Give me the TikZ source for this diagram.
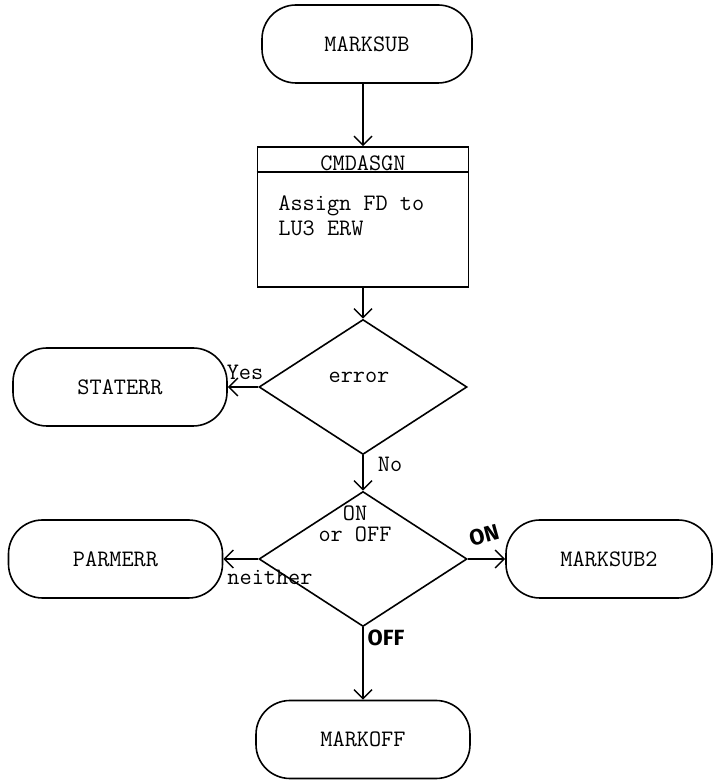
\documentclass[tikz,border=0pt]{standalone}
\usepackage{fontspec}
\newfontfamily\handfont{Fira Sans}
\usetikzlibrary{arrows.meta,shapes.geometric}
\tikzset{
  term/.style={draw, rectangle, rounded corners=17pt, minimum width=107pt, minimum height=39pt, line width=0.8pt, font=\ttfamily\fontsize{11.8}{12.5}\selectfont},
  procbox/.style={draw, rectangle, minimum width=105.5pt, minimum height=70pt, line width=0.8pt},
  decision/.style={draw, diamond, minimum width=104pt, minimum height=67.5pt, inner sep=0pt, line width=0.8pt},
  lbl/.style={font=\ttfamily\fontsize{11.8}{12.5}\selectfont, inner sep=1pt},
  hand/.style={font=\handfont\bfseries\fontsize{11}{13}\selectfont, inner sep=0pt},
  arr/.style={-{Straight Barb[length=4.5pt,width=9pt]}, line width=0.7pt},
}

\begin{document}
\begin{tikzpicture}[x=0.5pt,y=0.5pt]
\useasboundingbox (0,0) rectangle (713,781);
% main column
\node[term, minimum width=105pt] (marksub) at (367,737) {MARKSUB};
\node[procbox] (cmdasgn) at (363,564) {};
\node[lbl] (cmdhead) at ([yshift=-8.5pt]cmdasgn.north) {CMDASGN};
\draw[line width=0.8pt] ([yshift=-13pt]cmdasgn.north west) -- ([yshift=-13pt]cmdasgn.north east);
\node[lbl, anchor=west, align=left] (cmdbody) at (276,565.5) {Assign FD to\\LU3 ERW};
\node[decision] (err) at (363,394) {};
\node[lbl] (errtxt) at (359,404) {error};
\node[decision] (onoff) at (363,222) {};
\node[lbl, align=center] (onofftxt) at (355,257.5) {ON\\[-2pt]or OFF};
\node[term] (markoff) at (363,41.5) {MARKOFF};
% side exits
\node[term] (staterr) at (120,394) {STATERR};
\node[term] (parmerr) at (115.5,222) {PARMERR};
\node[term, minimum width=103pt] (marksub2) at (609,222) {MARKSUB2};
% branch labels
\node[lbl] (yes) at (245,409) {Yes};
\node[lbl] (no) at (390,317) {No};
\node[lbl] (neither) at (270,204) {neither};
\node[hand, rotate=15] (onlbl) at (484,246) {ON};
\node[hand] (offlbl) at (386,143) {OFF};
\draw[arr] (marksub.south -| cmdasgn.north) -- (cmdasgn.north);
\draw[arr] (cmdasgn) -- (err);
\draw[arr] (err) -- (staterr);
\draw[arr] (err) -- (onoff);
\draw[arr] (onoff) -- (parmerr);
\draw[arr] (onoff) -- (marksub2);
\draw[arr] (onoff) -- (markoff);
\end{tikzpicture}
\end{document}
